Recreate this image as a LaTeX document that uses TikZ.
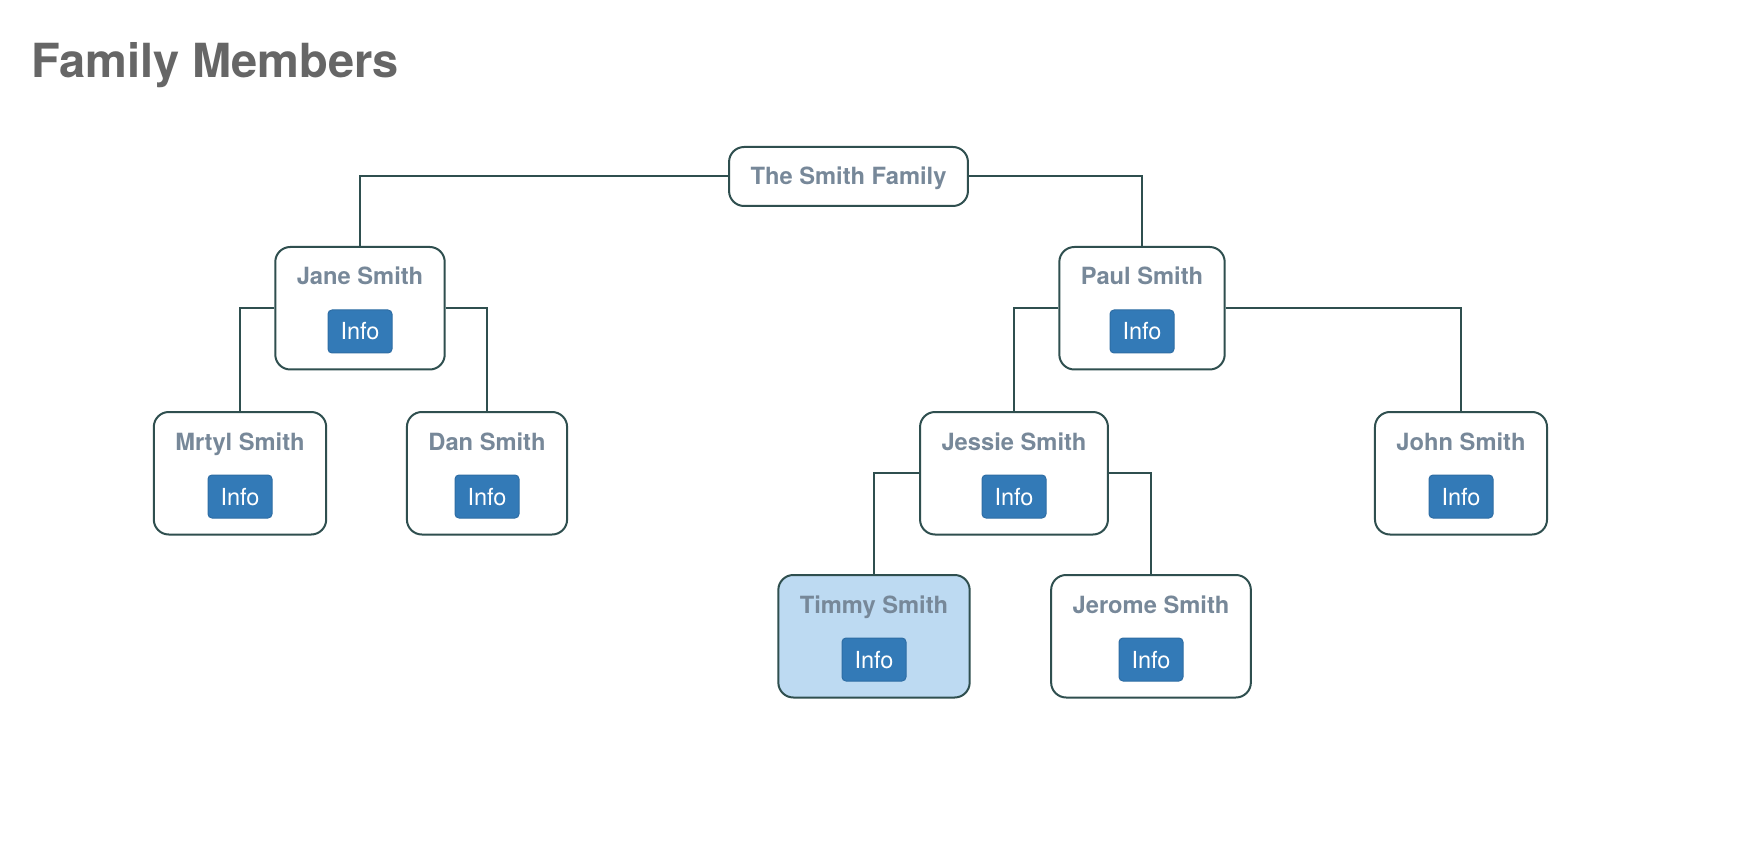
\documentclass[tikz,border=0pt]{standalone}
\usepackage{fontspec}
\setmainfont{TeX Gyre Heros}
\usepackage{tikz}

\tikzset{
  person/.style={draw=cbox,fill=cfbox,line width=2pt,rounded corners=15pt,anchor=north,
    text=clbox,font=\fontsize{23.7}{28}\selectfont\bfseries,
    inner xsep=21.5pt,inner ysep=21pt,text height=17pt,text depth=63.5pt},
  rootbox/.style={person,text depth=0pt},
  picked/.style={fill=cfpick},
  infobtn/.style={draw=cdinfo,fill=cfinfo,line width=1pt,rounded corners=4pt,text=white,
    font=\fontsize{23.5}{28}\selectfont,minimum width=64pt,minimum height=43pt,
    inner sep=0pt,text height=17pt,text depth=0pt},
  edge/.style={draw=cbox,line width=2pt}
}

\begin{document}
\begin{tikzpicture}[x=1pt,y=-1pt]
\definecolor{cbox}{rgb}{0.184,0.310,0.310}
\definecolor{cfbox}{rgb}{1.0,1.0,1.0}
\definecolor{clbox}{rgb}{0.467,0.533,0.600}
\definecolor{cfpick}{rgb}{0.741,0.855,0.949}
\definecolor{cfinfo}{rgb}{0.200,0.478,0.718}
\definecolor{cdinfo}{rgb}{0.180,0.427,0.643}
\definecolor{ctitle}{rgb}{0.400,0.400,0.400}
%
\fill[white] (0,0) rectangle (1756,858);
\useasboundingbox (0,0) rectangle (1756,858);
%
\node[anchor=base west,inner sep=0pt,text=ctitle,font=\fontsize{47}{56}\selectfont\bfseries] (title) at (31,78) {Family Members};
%
\node[rootbox] (smith) at (848.5,146) {The Smith Family};
\node[person] (jane) at (360,246) {Jane Smith};
\node[person] (paul) at (1142,246) {Paul Smith};
\node[person] (mrtyl) at (240,411) {Mrtyl Smith};
\node[person] (dan) at (487,411) {Dan Smith};
\node[person] (jessie) at (1014,411) {Jessie Smith};
\node[person] (john) at (1461,411) {John Smith};
\node[person,picked] (timmy) at (874,574) {Timmy Smith};
\node[person] (jerome) at (1151,574) {Jerome Smith};
%
\node[infobtn] (jane-info) at (360,331.5) {Info};
\node[infobtn] (paul-info) at (1142,331.5) {Info};
\node[infobtn] (mrtyl-info) at (240,496.5) {Info};
\node[infobtn] (dan-info) at (487,496.5) {Info};
\node[infobtn] (jessie-info) at (1014,496.5) {Info};
\node[infobtn] (john-info) at (1461,496.5) {Info};
\node[infobtn] (timmy-info) at (874,659.5) {Info};
\node[infobtn] (jerome-info) at (1151,659.5) {Info};
%
\draw[edge] (smith.west) -| (jane.north);
\draw[edge] (smith.east) -| (paul.north);
\draw[edge] (jane.west) -| (mrtyl.north);
\draw[edge] (jane.east) -| (dan.north);
\draw[edge] (paul.west) -| (jessie.north);
\draw[edge] (paul.east) -| (john.north);
\draw[edge] (jessie.west) -| (timmy.north);
\draw[edge] (jessie.east) -| (jerome.north);
%
\end{tikzpicture}
\end{document}
